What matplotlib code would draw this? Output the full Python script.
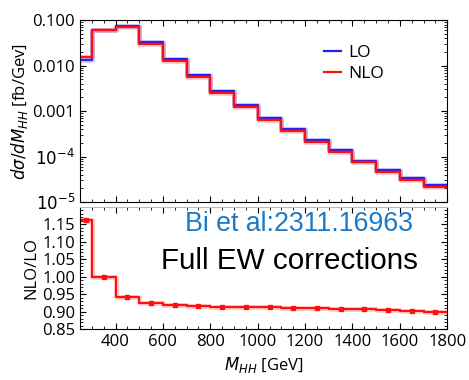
import numpy as np
import matplotlib
matplotlib.use("Agg")
from matplotlib import pyplot as plt
from matplotlib.ticker import FixedLocator, MultipleLocator, FixedFormatter, NullFormatter

plt.rcParams["font.family"] = ["Open Sans", "DejaVu Sans"]
plt.rcParams["mathtext.fontset"] = "dejavusans"

# bin edges in M_HH [GeV]
edges = [250, 300, 400, 500, 600, 700, 800, 900, 1000, 1100, 1200,
         1300, 1400, 1500, 1600, 1700, 1800]

# d sigma / dM_HH [fb/GeV]
lo = [0.0131, 0.0598, 0.0733, 0.0330, 0.0140, 0.00612, 0.00277, 0.00134,
      0.000697, 0.000401, 0.000231, 0.000138, 8.2e-5, 5.06e-5, 3.34e-5, 2.4e-5]
nlo = [0.0152, 0.0598, 0.0691, 0.0305, 0.0128, 0.00560, 0.00253, 0.00122,
       0.000636, 0.000365, 0.000210, 0.000125, 7.45e-5, 4.58e-5, 3.02e-5, 2.16e-5]

# NLO/LO ratio per bin
ratio = [1.162, 1.000, 0.943, 0.925, 0.919, 0.915, 0.914, 0.913, 0.912,
         0.911, 0.909, 0.908, 0.907, 0.906, 0.903, 0.900]
ratio_err = [0.003, 0.002, 0.002, 0.002, 0.002, 0.002, 0.002, 0.002, 0.002,
             0.002, 0.002, 0.002, 0.002, 0.002, 0.002, 0.002]

edges = np.array(edges)
centers = 0.5 * (edges[1:] + edges[:-1])
halfw = 0.5 * (edges[1:] - edges[:-1])

fig = plt.figure(figsize=(4.69, 3.80), dpi=100)
ax1 = fig.add_axes([0.1706, 0.468, 0.783, 0.479])
ax2 = fig.add_axes([0.1706, 0.134, 0.783, 0.3213])

def step(ax, vals, color, label=None):
    y = np.append(vals, vals[-1])
    ax.step(edges, y, where="post", color=color, lw=3.5, alpha=0.2)
    ax.step(edges, y, where="post", color=color, lw=1.6, label=label)

step(ax1, lo, "#2020ff", "LO")
step(ax1, nlo, "#ff1010", "NLO")

ax1.set_yscale("log")
ax1.set_xlim(250, 1800)
ax1.set_ylim(1e-5, 0.1)
ax1.yaxis.set_major_locator(FixedLocator([1e-5, 1e-4, 1e-3, 1e-2, 1e-1]))
ax1.yaxis.set_major_formatter(FixedFormatter(
    [r"$10^{-5}$", r"$10^{-4}$", "0.001", "0.010", "0.100"]))
ax1.set_xticks(np.arange(400, 1801, 200))
ax1.xaxis.set_minor_locator(MultipleLocator(50))
ax1.xaxis.set_major_formatter(NullFormatter())
ax1.set_ylabel(r"$d\sigma/dM_{HH}$ [fb/Gev]", fontsize=12, labelpad=2)
ax1.legend(loc="upper right", bbox_to_anchor=(0.87, 0.95), frameon=False,
           fontsize=12.5, handlelength=1.0, handletextpad=0.4, labelspacing=0.3)

ax2.step(edges, np.append(ratio, ratio[-1]), where="post", color="#ff1010", lw=3.5, alpha=0.2)
ax2.step(edges, np.append(ratio, ratio[-1]), where="post", color="#ff1010", lw=1.6)
ax2.errorbar(centers, ratio, xerr=halfw * 0.15, yerr=ratio_err, fmt="s", ms=2.5,
             color="#ff1010", elinewidth=1.5, capsize=0)
ax2.set_xlim(250, 1800)
ax2.set_ylim(0.85, 1.2)
ax2.set_yticks([0.85, 0.90, 0.95, 1.00, 1.05, 1.10, 1.15])
ax2.yaxis.set_minor_locator(MultipleLocator(0.01))
ax2.set_xticks(np.arange(400, 1801, 200))
ax2.xaxis.set_minor_locator(MultipleLocator(50))
ax2.set_ylabel("NLO/LO", fontsize=12, labelpad=2)
ax2.set_xlabel(r"$M_{HH}$ [GeV]", fontsize=12)
ax2.spines["top"].set_color("#bbbbbb")

for ax in (ax1, ax2):
    ax.tick_params(which="both", direction="in", top=True, right=True, labelsize=12)
    ax.tick_params(which="major", length=4)
    ax.tick_params(which="minor", length=2)

ax2.text(0.285, 0.86, "Bi et al:2311.16963", transform=ax2.transAxes,
         fontsize=19.3, color="#1a7ac8", family="Liberation Sans", va="center")
ax2.text(0.22, 0.56, "Full EW corrections", transform=ax2.transAxes,
         fontsize=21.3, color="black", family="Liberation Sans", va="center")

fig.savefig("out.png", dpi=100)
